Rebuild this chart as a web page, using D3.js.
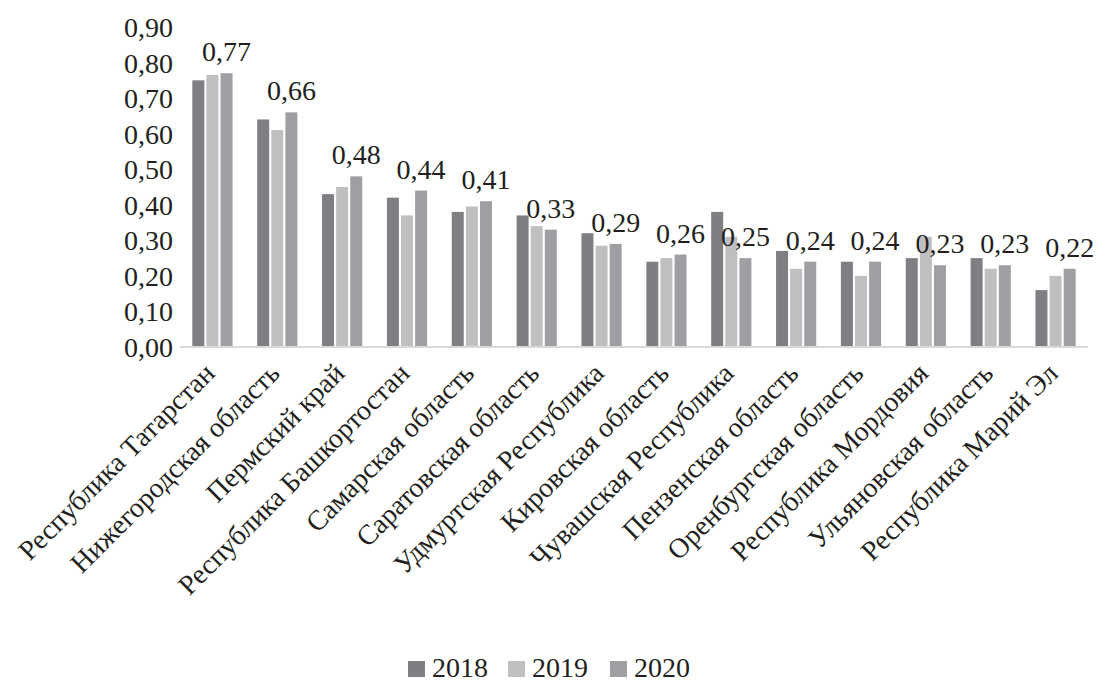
<!DOCTYPE html>
<html>
<head>
<meta charset="utf-8">
<script src="https://cdn.jsdelivr.net/npm/d3@7"></script>
<style>
  html, body { margin: 0; padding: 0; background: #fff; }
  svg text { font-family: "Liberation Serif", "Times New Roman", serif; fill: #231f20; }
</style>
</head>
<body>
<svg id="chart" width="1097" height="682"></svg>
<script>
// Regions (categories)
const categories = [
  "Республика Татарстан", "Нижегородская область", "Пермский край",
  "Республика Башкортостан", "Самарская область", "Саратовская область",
  "Удмуртская Республика", "Кировская область", "Чувашская Республика",
  "Пензенская область", "Оренбургская область", "Республика Мордовия",
  "Ульяновская область", "Республика Марий Эл"
];
const years = ["2018", "2019", "2020"];
const values2018 = [0.75, 0.64, 0.43, 0.42, 0.38, 0.37, 0.32, 0.24, 0.38, 0.27, 0.24, 0.25, 0.25, 0.16];
const values2019 = [0.765, 0.61, 0.45, 0.37, 0.395, 0.34, 0.285, 0.25, 0.31, 0.22, 0.20, 0.31, 0.22, 0.20];
const values2020 = [0.77, 0.66, 0.48, 0.44, 0.41, 0.33, 0.29, 0.26, 0.25, 0.24, 0.24, 0.23, 0.23, 0.22];
const yTicks = [0, 0.1, 0.2, 0.3, 0.4, 0.5, 0.6, 0.7, 0.8, 0.9];
const colors = ["#7f7f83", "#bfbfc1", "#9e9fa3"];

const series = [values2018, values2019, values2020];
const fmt = v => d3.format(".2f")(v).replace(".", ",");
const FONT = '"Liberation Serif", "Times New Roman", serif';
const FS = 28;

const svg = d3.select("#chart");
const margin = { left: 180, right: 9, top: 27, bottom: 335 };
const width = 1097, height = 682;

const x0 = d3.scaleBand().domain(categories).range([margin.left, width - margin.right]).paddingInner(0.38).paddingOuter(0.19);
const x1 = d3.scaleBand().domain(years).range([0, x0.bandwidth()]).paddingInner(0.15);
const y = d3.scaleLinear().domain([0, 0.9]).range([height - margin.bottom, margin.top]);

// Y axis labels (no line, no ticks)
const yAxis = svg.append("g")
  .attr("transform", `translate(${margin.left - 7},0)`)
  .call(d3.axisLeft(y).tickValues(yTicks).tickFormat(fmt).tickSize(0).tickPadding(0));
yAxis.attr("font-family", FONT).attr("font-size", FS);
yAxis.select(".domain").remove();
yAxis.selectAll("text").attr("dy", "0.34em").attr("fill", "#231f20");

// Bars
const groups = svg.append("g").selectAll("g")
  .data(categories)
  .join("g")
  .attr("transform", d => `translate(${x0(d)},0)`);

groups.selectAll("rect")
  .data((d, i) => years.map((yr, k) => ({ yr, v: series[k][i] })))
  .join("rect")
  .attr("x", d => x1(d.yr))
  .attr("width", x1.bandwidth())
  .attr("y", d => y(d.v))
  .attr("height", d => y(0) - y(d.v))
  .attr("fill", (d, k) => colors[k]);

// Baseline
svg.append("line")
  .attr("x1", margin.left).attr("x2", width - margin.right)
  .attr("y1", y(0)).attr("y2", y(0))
  .attr("stroke", "#d9d9d9").attr("stroke-width", 2);

// Value labels above the 2020 bars
groups.append("text")
  .attr("x", x1("2020") + x1.bandwidth() / 2)
  .attr("y", (d, i) => y(values2020[i]) - 12)
  .attr("text-anchor", "middle")
  .attr("font-family", FONT)
  .attr("font-size", FS)
  .text((d, i) => fmt(values2020[i]));

// Category labels rotated -45°
const xAxis = svg.append("g")
  .attr("transform", `translate(0,${y(0)})`)
  .call(d3.axisBottom(x0).tickSize(0).tickPadding(0));
xAxis.attr("font-family", FONT).attr("font-size", FS);
xAxis.select(".domain").remove();
xAxis.selectAll("text")
  .attr("fill", "#231f20")
  .attr("text-anchor", "end")
  .attr("dy", null)
  .attr("y", 0)
  .attr("transform", "translate(4,28) rotate(-45)");

// Legend
const legend = svg.append("g").attr("transform", "translate(408,677)");
const legendX = [0, 100, 202];
years.forEach((yr, k) => {
  const g = legend.append("g").attr("transform", `translate(${legendX[k]},0)`);
  g.append("rect").attr("x", 0).attr("y", -16).attr("width", 17).attr("height", 16).attr("fill", colors[k]);
  g.append("text").attr("x", 24).attr("y", 0).attr("font-family", FONT).attr("font-size", FS).text(yr);
});
</script>
</body>
</html>
